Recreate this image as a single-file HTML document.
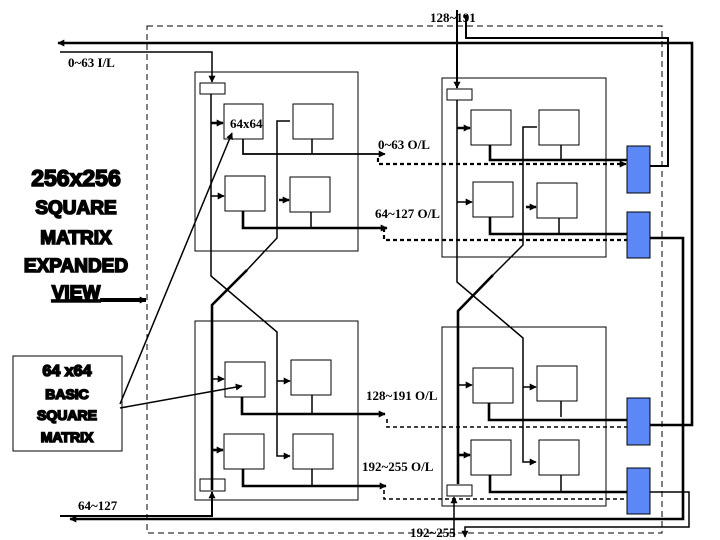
<!DOCTYPE html>
<html><head><meta charset="utf-8"><style>
html,body{margin:0;padding:0;background:#fff}
svg{display:block}
.s{font-family:"Liberation Serif",serif;font-weight:bold;font-size:13px}
.b{font-family:"Liberation Sans",sans-serif;font-weight:bold;stroke:#000;stroke-width:1.6}
rect{shape-rendering:crispEdges}
</style></head><body>
<svg width="720" height="540" viewBox="0 0 720 540" xmlns="http://www.w3.org/2000/svg">
<defs>
<marker id="a" viewBox="0 0 10 10" refX="9" refY="5" markerWidth="7" markerHeight="7" markerUnits="userSpaceOnUse" orient="auto"><path d="M0,0L10,5L0,10z" fill="#000"/></marker>
</defs>
<g fill="none" stroke="#000" stroke-width="1.3">
<rect x="147" y="26" width="515" height="507" stroke-dasharray="6,4"/>
<rect x="195" y="72" width="163" height="179"/>
<rect x="442" y="78" width="164" height="179"/>
<rect x="195" y="321" width="163" height="179"/>
<rect x="442" y="327" width="164" height="179"/>
<rect x="200" y="83" width="25" height="11"/>
<rect x="447" y="89" width="25" height="11"/>
<rect x="200" y="479" width="25" height="12"/>
<rect x="447" y="485" width="25" height="11"/>
<rect x="224" y="104" width="39" height="35"/><rect x="293" y="104" width="40" height="35"/>
<rect x="225" y="176" width="40" height="35"/><rect x="290" y="177" width="40" height="35"/>
<rect x="471" y="110" width="40" height="35"/><rect x="539" y="110" width="40" height="35"/>
<rect x="473" y="182" width="40" height="35"/><rect x="537" y="183" width="40" height="35"/>
<rect x="225" y="362" width="40" height="35"/><rect x="291" y="360" width="40" height="35"/>
<rect x="224" y="434" width="40" height="35"/><rect x="293" y="434" width="40" height="35"/>
<rect x="473" y="368" width="40" height="35"/><rect x="537" y="366" width="40" height="35"/>
<rect x="471" y="440" width="40" height="35"/><rect x="539" y="440" width="40" height="35"/>
<rect x="13" y="356" width="109" height="95"/>
</g>
<g fill="#5b87f7" stroke="#000" stroke-width="1.3">
<rect x="627" y="146" width="23" height="47"/>
<rect x="627" y="212" width="23" height="46"/>
<rect x="627" y="398" width="23" height="47"/>
<rect x="627" y="468" width="23" height="46"/>
</g>
<g fill="none" stroke="#000" stroke-width="1.5">
<polyline points="211,94 211,276 277,332 277,456 290,456" marker-end="url(#a)"/>
<line x1="277" y1="381" x2="290" y2="381" marker-end="url(#a)"/>
<polyline points="290,121 277,121 277,238 247,270"/>
<line x1="211" y1="123" x2="223" y2="123" stroke-width="2.5" marker-end="url(#a)"/>
<line x1="211" y1="196" x2="224" y2="196" marker-end="url(#a)"/>
<line x1="279" y1="200" x2="289" y2="200" stroke-width="2.5" marker-end="url(#a)"/>
<polyline points="457,100 457,282 523,338 523,462 536,462" marker-end="url(#a)"/>
<line x1="523" y1="387" x2="536" y2="387" marker-end="url(#a)"/>
<polyline points="537,127 523,127 523,245 493,275"/>
<line x1="457" y1="128" x2="470" y2="128" stroke-width="2.5" marker-end="url(#a)"/>
<line x1="457" y1="202" x2="472" y2="202" marker-end="url(#a)"/>
<line x1="526" y1="207" x2="536" y2="207" stroke-width="2.5" marker-end="url(#a)"/>
<line x1="312" y1="139" x2="312" y2="154"/><line x1="311" y1="212" x2="311" y2="228"/>
<line x1="561" y1="145" x2="561" y2="160"/><line x1="559" y1="218" x2="559" y2="235"/>
<line x1="312" y1="395" x2="312" y2="414"/><line x1="312" y1="469" x2="312" y2="486"/>
<line x1="561" y1="401" x2="561" y2="417"/><line x1="561" y1="475" x2="561" y2="492"/>
<line x1="120" y1="404" x2="232" y2="133" marker-end="url(#a)"/>
<line x1="120" y1="408" x2="242" y2="386" marker-end="url(#a)"/>
<polyline points="60,52 212,52 212,82" marker-end="url(#a)"/>
<line x1="457" y1="10" x2="457" y2="88" stroke-width="2" marker-end="url(#a)"/>
<polyline points="466,15 466,38 668,38 668,166 650,166" stroke-width="2"/>
<line x1="454" y1="537" x2="454" y2="497" marker-end="url(#a)"/>
<polyline points="650,492 689,492 689,527 465,527 465,537" marker-end="url(#a)"/>
</g>
<g fill="none" stroke="#000" stroke-width="2.6">
<polyline points="212,490 212,305 247,270"/>
<polyline points="458,484 458,311 493,275"/>
<line x1="212" y1="379" x2="224" y2="379" stroke-width="1.5" marker-end="url(#a)"/>
<line x1="212" y1="450" x2="223" y2="450" marker-end="url(#a)"/>
<line x1="458" y1="385" x2="472" y2="385" stroke-width="1.5" marker-end="url(#a)"/>
<line x1="458" y1="455" x2="470" y2="455" marker-end="url(#a)"/>
<polyline points="243,139 243,154 385,154" stroke-width="1.7" marker-end="url(#a)"/>
<polyline points="243,211 243,228 387,228" marker-end="url(#a)"/>
<polyline points="242,397 242,414 385,414" marker-end="url(#a)"/>
<polyline points="243,469 243,486 386,486" marker-end="url(#a)"/>
<polyline points="490,145 490,160 627,160"/>
<polyline points="490,217 490,234 627,234"/>
<polyline points="489,403 489,420 627,420"/>
<polyline points="490,475 490,492 627,492"/>
<polyline points="650,425 692,425 692,43 58,43" marker-end="url(#a)"/>
<polyline points="650,238 683,238 683,519 70,519" marker-end="url(#a)"/>
<polyline points="60,516 212,516 212,492" stroke-width="2" marker-end="url(#a)"/>
<line x1="100" y1="300" x2="146" y2="300" stroke-width="4" marker-end="url(#a)"/>
</g>
<g fill="none" stroke="#000" stroke-dasharray="4,3" stroke-width="1.6">
<polyline points="378,158 378,164 626,164" stroke-width="2.2" marker-end="url(#a)"/>
<polyline points="384,228 384,240 627,240" stroke-width="2.2"/>
<polyline points="387,419 387,427 627,427"/>
<polyline points="384,490 384,499 627,499"/>
</g>
<g class="s">
<text x="430" y="22">128~191</text>
<text x="68" y="67">0~63 I/L</text>
<text x="78" y="510">64~127</text>
<text x="410" y="537">192~255</text>
<text x="230" y="128">64x64</text>
<text x="378" y="149">0~63 O/L</text>
<text x="375" y="218">64~127  O/L</text>
<text x="366" y="400">128~191 O/L</text>
<text x="362" y="471">192~255 O/L</text>
</g>
<g class="b" text-anchor="middle">
<text x="76" y="186" font-size="23">256x256</text>
<text x="76" y="214" font-size="19">SQUARE</text>
<text x="76" y="244" font-size="19">MATRIX</text>
<text x="76" y="272" font-size="19">EXPANDED</text>
<text x="76" y="299" font-size="19" text-decoration="underline">VIEW</text>
<text x="67" y="376" font-size="16">64 x64</text>
<text x="67" y="399" font-size="14">BASIC</text>
<text x="67" y="420" font-size="14">SQUARE</text>
<text x="67" y="442" font-size="14">MATRIX</text>
</g>
</svg>
</body></html>
